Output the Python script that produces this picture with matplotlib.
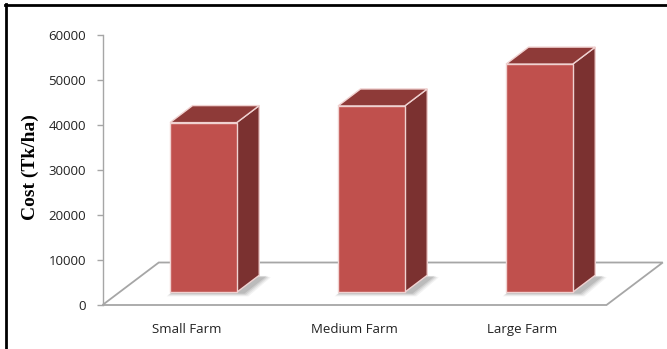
import matplotlib
matplotlib.use("Agg")
import matplotlib.pyplot as plt
from matplotlib.patches import Polygon

categories = ["Small Farm", "Medium Farm", "Large Farm"]
cost = [37700, 41400, 50700]
y_ticks = [0, 10000, 20000, 30000, 40000, 50000, 60000]

# oblique depth of the floor (category units, value units)
depth_x = 0.335
depth_y = 9444
f0, f1 = 0.3, 0.7          # bars occupy this slice of the floor depth
bar_w = 0.397

front_col = "#c0504d"
top_col = "#8e3a38"
side_col = "#7b3130"
edge_col = "#f0d2d1"
grid_col = "#a6a6a6"

fig = plt.figure(figsize=(6.67, 3.49), dpi=100)
ax = fig.add_axes([102.5 / 667, 44 / 349, (665 - 102.5) / 667, 270 / 349])
ax.set_xlim(-0.5, -0.5 + (665 - 102.5) / 168)
ax.set_ylim(0, 60000)

# floor
floor = Polygon([(-0.5, 0), (2.5, 0), (2.5 + depth_x, depth_y), (-0.5 + depth_x, depth_y)],
                closed=True, facecolor="white", edgecolor=grid_col, lw=1.3, zorder=1,
                clip_on=False)
ax.add_patch(floor)

ddx = (f1 - f0) * depth_x
ddy = (f1 - f0) * depth_y
base = f0 * depth_y
xs = [i + f0 * depth_x for i in range(len(categories))]

# soft shadows at the bar feet
for i, x in enumerate(xs):
    xl, xr = x - bar_w / 2, x + bar_w / 2
    for k, a in enumerate([0.06, 0.08, 0.10, 0.12]):
        g = 0.03 - k * 0.008
        gy = 900 - k * 200
        shadow = Polygon([(xl - g + 0.01, base - gy), (xr + g + 0.04, base - gy),
                          (xr + ddx + g + 0.04, base + ddy - gy * 0.5),
                          (xl + ddx - g, base + ddy - gy * 0.5)],
                         closed=True, facecolor="#303030", edgecolor="none",
                         alpha=a, zorder=2)
        ax.add_patch(shadow)

bars = ax.bar(xs, cost, width=bar_w, bottom=base, color=front_col,
              edgecolor=edge_col, linewidth=1.0, zorder=4)

for x, v in zip(xs, cost):
    xl, xr = x - bar_w / 2, x + bar_w / 2
    yt = base + v
    top = Polygon([(xl, yt), (xr, yt), (xr + ddx, yt + ddy), (xl + ddx, yt + ddy)],
                  closed=True, facecolor=top_col, edgecolor=edge_col, lw=1.0, zorder=3)
    side = Polygon([(xr, base), (xr + ddx, base + ddy), (xr + ddx, yt + ddy), (xr, yt)],
                   closed=True, facecolor=side_col, edgecolor=edge_col, lw=1.0, zorder=3)
    ax.add_patch(side)
    ax.add_patch(top)

# axes styling
for s in ["top", "right", "bottom"]:
    ax.spines[s].set_visible(False)
ax.spines["left"].set_color(grid_col)
ax.spines["left"].set_linewidth(1.0)
ax.set_yticks(y_ticks)
ax.set_yticklabels([str(t) for t in y_ticks])
ax.tick_params(axis="y", colors=grid_col, length=4, width=1.0, pad=8,
               labelcolor="#222222", labelsize=9.5)
ax.set_xticks(range(len(categories)))
ax.set_xticklabels(categories)
ax.tick_params(axis="x", length=0, pad=13, labelcolor="#222222", labelsize=9.5)
for lab in ax.get_xticklabels() + ax.get_yticklabels():
    lab.set_family("Open Sans")

fig.text(30 / 667, 168 / 349 + 0.04, "Cost (Tk/ha)", rotation=90, ha="center", va="center",
         family="Liberation Serif", fontweight="bold", fontsize=14)

# frame lines on the left and top
fig.add_artist(plt.Line2D([5.5 / 667, 5.5 / 667], [0, 1 - 4 / 349], color="black", lw=2,
                          transform=fig.transFigure))
fig.add_artist(plt.Line2D([4.5 / 667, 1], [1 - 4.5 / 349, 1 - 4.5 / 349], color="black", lw=2,
                          transform=fig.transFigure))

fig.savefig("out.png", dpi=100)
